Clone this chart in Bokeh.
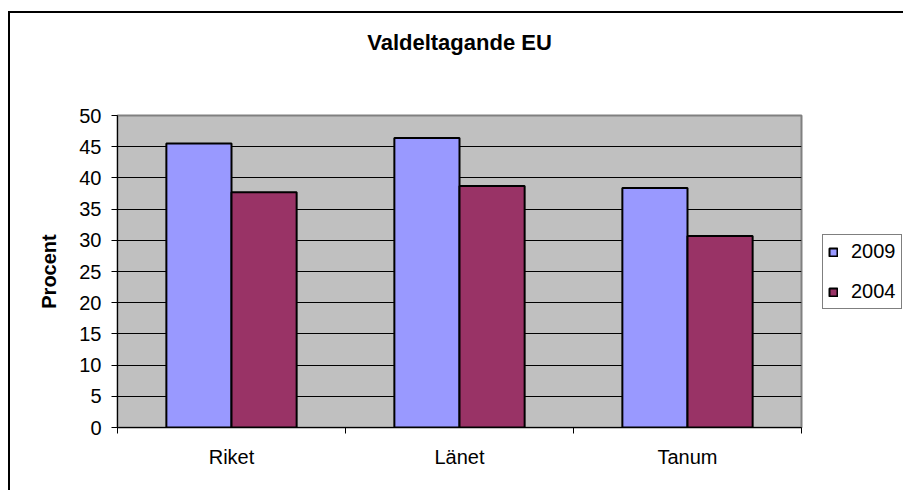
from bokeh.plotting import figure
from bokeh.models import Range1d, FixedTicker, ColumnDataSource, Legend, LegendItem, Title
from bokeh.transform import dodge
from bokeh.embed import file_html
from bokeh.resources import INLINE

categories = ["Riket", "Länet", "Tanum"]
years = ["2009", "2004"]
values_2009 = [45.5, 46.4, 38.4]
values_2004 = [37.7, 38.7, 30.7]
y_ticks = [0, 5, 10, 15, 20, 25, 30, 35, 40, 45, 50]
title_text = "Valdeltagande EU"
y_label = "Procent"

FONT = "Liberation Sans"
BAR_W = 0.2857

centers = [i + 0.5 for i in range(len(categories))]
bounds = [i for i in range(len(categories) + 1)]

src = ColumnDataSource(dict(x=centers, cat=categories, v2009=values_2009, v2004=values_2004))

p = figure(x_range=Range1d(0, len(categories)), y_range=Range1d(0, 50),
           frame_width=684, frame_height=312,
           output_backend="svg", toolbar_location=None,
           min_border_left=117, min_border_right=102,
           min_border_top=115, min_border_bottom=63)

r1 = p.vbar(x=dodge("x", -BAR_W / 2), top="v2009", width=BAR_W, source=src,
            fill_color="#9999FF", line_color="black", line_width=2)
r2 = p.vbar(x=dodge("x", BAR_W / 2), top="v2004", width=BAR_W, source=src,
            fill_color="#993366", line_color="black", line_width=2)

p.background_fill_color = "#C0C0C0"
p.border_fill_color = "white"
p.border_fill_alpha = 0
p.outline_line_color = "#808080"
p.outline_line_width = 2

# outer chart frame (left and top edges visible in the reference)
p.styles = {
    "background-color": "white",
    "background-image": "linear-gradient(#000, #000), linear-gradient(#000, #000)",
    "background-size": "2px 100%, 100% 2px",
    "background-position": "8px 11px, 8px 11px",
    "background-repeat": "no-repeat",
}

p.xgrid.visible = False
p.ygrid.ticker = FixedTicker(ticks=y_ticks[1:-1])
p.ygrid.grid_line_color = "black"
p.ygrid.grid_line_width = 1

yax = p.yaxis[0]
yax.ticker = FixedTicker(ticks=y_ticks)
yax.major_tick_out = 6
yax.major_tick_in = 0
yax.minor_tick_line_color = None
yax.axis_line_color = "black"
yax.major_tick_line_color = "black"
yax.major_label_text_font = FONT
yax.major_label_text_font_size = "20px"
yax.major_label_text_color = "black"
yax.major_label_standoff = 10
yax.axis_label = y_label
yax.axis_label_text_font = FONT
yax.axis_label_text_font_size = "20px"
yax.axis_label_text_font_style = "bold"
yax.axis_label_text_color = "black"
yax.axis_label_standoff = 16

xax = p.xaxis[0]
xax.ticker = FixedTicker(ticks=centers, minor_ticks=bounds)
xax.major_label_overrides = {c: lab for c, lab in zip(centers, categories)}
xax.major_tick_line_color = None
xax.major_tick_out = 0
xax.major_tick_in = 0
xax.minor_tick_out = 6
xax.minor_tick_in = 0
xax.minor_tick_line_color = "black"
xax.axis_line_color = "black"
xax.major_label_text_font = FONT
xax.major_label_text_font_size = "20px"
xax.major_label_text_color = "black"
xax.major_label_standoff = 12

# title: a spacer panel next to the frame, then the real title above it
p.title = None
spacer = Title(text=" ", text_font_size="2px", standoff=55)
p.add_layout(spacer, "above")
main_title = Title(text=title_text, align="center", vertical_align="top",
                   text_font=FONT, text_font_size="22px", text_font_style="bold",
                   text_color="black", standoff=0)
p.add_layout(main_title, "above")

legend = Legend(items=[LegendItem(label=years[0], renderers=[r1]),
                       LegendItem(label=years[1], renderers=[r2])],
                location=(21, 118))
legend.border_line_color = "black"
legend.border_line_width = 1
legend.background_fill_color = "white"
legend.background_fill_alpha = 1
legend.label_text_font = FONT
legend.label_text_font_size = "20px"
legend.label_text_color = "black"
legend.glyph_width = 10
legend.glyph_height = 10
legend.padding = 5
legend.spacing = 17
legend.label_standoff = 13
legend.margin = 0
p.add_layout(legend, "right")

open("out.html", "w").write(file_html(p, INLINE))
